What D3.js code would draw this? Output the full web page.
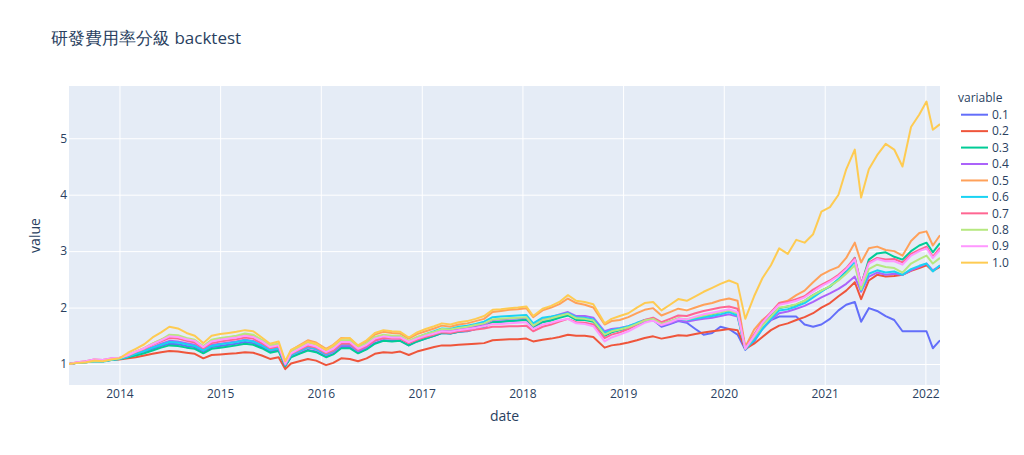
<!DOCTYPE html>
<html><head><meta charset="utf-8">
<script src="https://cdn.jsdelivr.net/npm/d3@7"></script>
<style>body{margin:0;background:#fff}svg{display:block}text{font-family:"Open Sans",verdana,arial,sans-serif}</style>
</head><body>
<svg id="c" width="1024" height="455"></svg>
<script>
const title = "研發費用率分級 backtest";
const dates = [
 "2013-07-02","2013-08-01","2013-09-01","2013-10-01","2013-11-01","2013-12-01",
 "2014-01-01","2014-02-01","2014-03-01","2014-04-01","2014-05-01","2014-06-01","2014-07-01","2014-08-01","2014-09-01","2014-10-01","2014-11-01","2014-12-01",
 "2015-01-01","2015-02-01","2015-03-01","2015-04-01","2015-05-01","2015-06-01","2015-07-01","2015-08-01","2015-08-25","2015-09-15","2015-10-15","2015-11-15","2015-12-15",
 "2016-01-20","2016-02-15","2016-03-15","2016-04-15","2016-05-15","2016-06-15","2016-07-15","2016-08-15","2016-09-15","2016-10-15","2016-11-15","2016-12-15",
 "2017-01-15","2017-02-15","2017-03-15","2017-04-15","2017-05-15","2017-06-15","2017-07-15","2017-08-15","2017-09-15","2017-10-15","2017-11-15","2017-12-15",
 "2018-01-15","2018-02-09","2018-03-15","2018-04-15","2018-05-15","2018-06-15","2018-07-15","2018-08-15","2018-09-15","2018-10-26","2018-11-20","2018-12-20",
 "2019-01-20","2019-02-20","2019-03-20","2019-04-20","2019-05-20","2019-06-20","2019-07-20","2019-08-20","2019-09-20","2019-10-20","2019-11-20","2019-12-20",
 "2020-01-20","2020-02-20","2020-03-19","2020-04-20","2020-05-20","2020-06-20","2020-07-20","2020-08-20","2020-09-20","2020-10-20","2020-11-20","2020-12-20",
 "2021-01-20","2021-02-20","2021-03-20","2021-04-20","2021-05-13","2021-06-10","2021-07-10","2021-08-10","2021-09-10","2021-10-10","2021-11-10","2021-12-10",
 "2022-01-05","2022-01-28","2022-02-23"];

const s01 = [1.00,1.02,1.03,1.05,1.05,1.08,
 1.10,1.13,1.17,1.22,1.27,1.32,1.36,1.35,1.32,1.30,1.22,1.30,
 1.32,1.34,1.36,1.39,1.37,1.30,1.22,1.25,0.97,1.13,1.19,1.25,1.22,
 1.13,1.18,1.30,1.30,1.20,1.27,1.37,1.42,1.41,1.41,1.33,1.40,
 1.45,1.50,1.55,1.54,1.57,1.58,1.62,1.65,1.74,1.75,1.76,1.77,
 1.79,1.66,1.75,1.78,1.83,1.88,1.80,1.80,1.76,1.52,1.57,1.60,
 1.63,1.70,1.75,1.78,1.66,1.71,1.76,1.73,1.62,1.52,1.55,1.66,
 1.62,1.52,1.25,1.40,1.62,1.78,1.84,1.84,1.84,1.70,1.66,1.70,
 1.80,1.95,2.05,2.10,1.75,1.99,1.94,1.85,1.78,1.58,1.58,1.58,
 1.58,1.28,1.42];
const s02 = [1.00,1.02,1.04,1.06,1.05,1.07,
 1.08,1.10,1.12,1.15,1.18,1.21,1.23,1.22,1.20,1.18,1.10,1.16,
 1.17,1.18,1.19,1.21,1.20,1.15,1.09,1.12,0.91,1.01,1.05,1.09,1.06,
 0.98,1.02,1.10,1.09,1.05,1.10,1.18,1.21,1.20,1.22,1.16,1.22,
 1.26,1.30,1.33,1.33,1.34,1.35,1.36,1.37,1.42,1.43,1.44,1.44,
 1.45,1.40,1.43,1.45,1.48,1.52,1.50,1.50,1.48,1.29,1.33,1.35,
 1.38,1.42,1.46,1.49,1.45,1.48,1.51,1.50,1.53,1.56,1.58,1.60,
 1.62,1.60,1.27,1.36,1.48,1.60,1.68,1.72,1.78,1.83,1.90,2.00,
 2.08,2.20,2.30,2.45,2.15,2.48,2.58,2.55,2.56,2.58,2.65,2.70,
 2.75,2.65,2.72];
const s03 = [1.00,1.02,1.03,1.05,1.05,1.07,
 1.09,1.12,1.15,1.19,1.24,1.29,1.33,1.32,1.29,1.27,1.19,1.27,
 1.29,1.31,1.33,1.36,1.34,1.28,1.20,1.23,0.96,1.12,1.18,1.24,1.21,
 1.12,1.17,1.28,1.28,1.19,1.26,1.36,1.41,1.40,1.41,1.33,1.40,
 1.45,1.50,1.55,1.54,1.57,1.59,1.62,1.66,1.74,1.75,1.76,1.77,
 1.78,1.64,1.74,1.77,1.82,1.86,1.78,1.78,1.75,1.50,1.56,1.60,
 1.64,1.70,1.76,1.79,1.70,1.75,1.80,1.78,1.82,1.85,1.88,1.92,
 1.95,1.90,1.28,1.50,1.70,1.85,1.99,2.02,2.05,2.12,2.22,2.30,
 2.37,2.50,2.65,2.88,2.40,2.85,2.96,2.98,2.90,2.85,3.00,3.10,
 3.15,2.98,3.14];
const s04 = [1.00,1.02,1.04,1.07,1.06,1.09,
 1.10,1.14,1.19,1.24,1.30,1.36,1.41,1.40,1.37,1.34,1.25,1.34,
 1.36,1.38,1.40,1.43,1.41,1.34,1.25,1.28,0.98,1.16,1.22,1.29,1.26,
 1.16,1.21,1.33,1.33,1.23,1.30,1.41,1.46,1.45,1.45,1.37,1.44,
 1.50,1.55,1.60,1.59,1.62,1.64,1.67,1.70,1.78,1.79,1.80,1.81,
 1.82,1.68,1.79,1.83,1.88,1.92,1.85,1.85,1.82,1.58,1.62,1.64,
 1.67,1.72,1.76,1.78,1.68,1.72,1.77,1.75,1.78,1.80,1.82,1.85,
 1.88,1.84,1.26,1.45,1.63,1.78,1.90,1.93,1.98,2.03,2.10,2.18,
 2.25,2.33,2.42,2.55,2.28,2.55,2.62,2.58,2.60,2.58,2.66,2.72,
 2.78,2.66,2.74];
const s05 = [1.00,1.02,1.03,1.05,1.05,1.08,
 1.10,1.16,1.22,1.28,1.36,1.43,1.50,1.49,1.44,1.41,1.30,1.42,
 1.45,1.47,1.49,1.52,1.50,1.42,1.32,1.36,1.02,1.24,1.33,1.42,1.38,
 1.27,1.34,1.46,1.45,1.32,1.40,1.52,1.57,1.55,1.54,1.45,1.53,
 1.58,1.63,1.68,1.66,1.70,1.72,1.76,1.80,1.92,1.94,1.96,1.97,
 1.99,1.83,1.95,2.00,2.06,2.16,2.08,2.05,2.00,1.70,1.76,1.78,
 1.83,1.90,1.96,1.99,1.86,1.92,1.98,1.95,2.00,2.05,2.08,2.13,
 2.16,2.12,1.30,1.61,1.78,1.90,2.08,2.12,2.22,2.30,2.45,2.58,
 2.66,2.72,2.88,3.15,2.80,3.05,3.08,3.02,3.00,2.92,3.18,3.32,
 3.35,3.10,3.28];
const s06 = [1.00,1.02,1.03,1.05,1.04,1.07,
 1.09,1.13,1.18,1.23,1.29,1.34,1.39,1.38,1.35,1.32,1.24,1.32,
 1.35,1.37,1.39,1.42,1.40,1.33,1.25,1.28,0.99,1.16,1.23,1.30,1.27,
 1.17,1.23,1.35,1.35,1.25,1.33,1.44,1.49,1.48,1.48,1.40,1.47,
 1.53,1.58,1.63,1.62,1.66,1.68,1.71,1.75,1.83,1.84,1.85,1.86,
 1.87,1.72,1.82,1.84,1.87,1.90,1.83,1.82,1.79,1.55,1.60,1.63,
 1.67,1.73,1.78,1.80,1.70,1.75,1.80,1.78,1.80,1.83,1.85,1.88,
 1.92,1.86,1.26,1.42,1.62,1.80,1.95,1.97,2.02,2.08,2.18,2.28,
 2.38,2.50,2.62,2.82,2.30,2.60,2.66,2.62,2.64,2.58,2.68,2.74,
 2.78,2.64,2.75];
const s07 = [1.00,1.03,1.05,1.08,1.07,1.10,
 1.11,1.15,1.21,1.27,1.34,1.40,1.46,1.45,1.41,1.38,1.28,1.37,
 1.40,1.42,1.44,1.47,1.45,1.37,1.28,1.31,1.00,1.18,1.25,1.32,1.29,
 1.19,1.24,1.36,1.36,1.25,1.32,1.42,1.46,1.45,1.45,1.37,1.43,
 1.48,1.52,1.56,1.55,1.58,1.59,1.61,1.63,1.66,1.66,1.67,1.67,
 1.68,1.58,1.66,1.70,1.75,1.80,1.74,1.73,1.70,1.46,1.52,1.56,
 1.62,1.70,1.78,1.82,1.74,1.80,1.86,1.85,1.90,1.94,1.97,2.00,
 2.02,1.98,1.28,1.52,1.75,1.92,2.08,2.10,2.15,2.20,2.32,2.40,
 2.48,2.58,2.70,2.88,2.42,2.80,2.88,2.85,2.86,2.80,2.95,3.02,
 3.08,2.90,3.06];
const s08 = [1.00,1.02,1.03,1.05,1.05,1.08,
 1.10,1.16,1.22,1.28,1.36,1.43,1.52,1.51,1.46,1.43,1.32,1.43,
 1.46,1.48,1.50,1.54,1.52,1.43,1.33,1.36,1.02,1.22,1.30,1.38,1.34,
 1.24,1.30,1.42,1.42,1.30,1.37,1.48,1.52,1.50,1.50,1.41,1.48,
 1.53,1.57,1.62,1.61,1.64,1.66,1.69,1.72,1.79,1.80,1.81,1.82,
 1.83,1.68,1.78,1.81,1.85,1.89,1.81,1.80,1.77,1.52,1.58,1.61,
 1.65,1.71,1.77,1.80,1.71,1.76,1.81,1.79,1.83,1.86,1.89,1.92,
 1.95,1.90,1.27,1.48,1.68,1.84,2.00,2.02,2.06,2.12,2.22,2.30,
 2.38,2.48,2.60,2.75,2.32,2.68,2.76,2.72,2.70,2.62,2.78,2.86,
 2.92,2.78,2.88];
const s09 = [1.00,1.03,1.05,1.08,1.07,1.10,
 1.11,1.16,1.22,1.28,1.35,1.42,1.49,1.48,1.44,1.41,1.30,1.40,
 1.43,1.45,1.47,1.50,1.48,1.40,1.30,1.33,1.00,1.19,1.27,1.35,1.31,
 1.21,1.27,1.39,1.39,1.27,1.34,1.45,1.49,1.47,1.47,1.39,1.45,
 1.50,1.54,1.58,1.57,1.60,1.62,1.64,1.67,1.71,1.71,1.72,1.73,
 1.74,1.62,1.70,1.73,1.77,1.80,1.72,1.71,1.67,1.40,1.47,1.52,
 1.58,1.66,1.73,1.77,1.69,1.74,1.80,1.79,1.84,1.88,1.91,1.94,
 1.97,1.92,1.27,1.50,1.73,1.90,2.05,2.08,2.12,2.18,2.28,2.38,
 2.46,2.56,2.68,2.85,2.40,2.78,2.86,2.82,2.82,2.76,2.92,3.00,
 3.05,2.88,3.02];
const s10 = [1.00,1.02,1.03,1.06,1.05,1.08,
 1.10,1.20,1.27,1.35,1.47,1.56,1.66,1.63,1.55,1.50,1.37,1.50,
 1.53,1.55,1.57,1.60,1.58,1.47,1.36,1.40,1.05,1.25,1.32,1.40,1.36,
 1.25,1.33,1.45,1.46,1.33,1.42,1.55,1.60,1.58,1.57,1.47,1.56,
 1.62,1.67,1.72,1.70,1.74,1.76,1.80,1.85,1.96,1.97,1.99,2.00,
 2.02,1.85,1.98,2.03,2.10,2.22,2.12,2.10,2.06,1.72,1.80,1.85,
 1.90,2.00,2.08,2.10,1.95,2.05,2.15,2.12,2.20,2.28,2.35,2.42,
 2.48,2.42,1.80,2.20,2.52,2.75,3.05,2.95,3.20,3.15,3.30,3.70,
 3.78,4.00,4.45,4.80,3.95,4.45,4.70,4.90,4.80,4.50,5.20,5.42,
 5.65,5.15,5.25];

const seriesNames = ["0.1","0.2","0.3","0.4","0.5","0.6","0.7","0.8","0.9","1.0"];
const seriesValues = [s01,s02,s03,s04,s05,s06,s07,s08,s09,s10];
const colors = ["#636efa","#EF553B","#00cc96","#ab63fa","#FFA15A","#19d3f3","#FF6692","#B6E880","#FF97FF","#FECB52"];
const yTicks = [1,2,3,4,5];
const xTickYears = [2014,2015,2016,2017,2018,2019,2020,2021,2022];

const svg = d3.select("#c");
const L = 69, R = 940, T = 86, B = 385;
const parse = d3.timeParse("%Y-%m-%d");
const x = d3.scaleTime().domain([parse("2013-07-02"), parse("2022-02-23")]).range([L, R]);
const y = d3.scaleLinear().domain([0.628, 5.926]).range([B, T]);

svg.append("rect").attr("x",L).attr("y",T).attr("width",R-L).attr("height",B-T).attr("fill","#E5ECF6");

const xt = xTickYears.map(yr => new Date(yr,0,1));
svg.append("g").attr("transform",`translate(0,${B})`)
  .call(d3.axisBottom(x).tickValues(xt).tickFormat(d3.timeFormat("%Y")).tickSize(-(B-T)).tickPadding(4))
  .call(g => { g.select(".domain").remove();
    g.selectAll("line").attr("stroke","#fff").attr("stroke-width",1);
    g.selectAll("text").attr("fill","#2a3f5f").attr("font-size",12); });
svg.append("g").attr("transform",`translate(${L},0)`)
  .call(d3.axisLeft(y).tickValues(yTicks).tickFormat(d3.format("d")).tickSize(-(R-L)).tickPadding(2))
  .call(g => { g.select(".domain").remove();
    g.selectAll("line").attr("stroke","#fff").attr("stroke-width",1);
    g.selectAll("text").attr("fill","#2a3f5f").attr("font-size",12); });

svg.append("clipPath").attr("id","clip").append("rect").attr("x",L).attr("y",T).attr("width",R-L).attr("height",B-T);
const line = d3.line().x(d => x(d[0])).y(d => y(d[1]));
const pd = dates.map(parse);
const g = svg.append("g").attr("clip-path","url(#clip)");
seriesValues.forEach((vals,i) => {
  g.append("path").datum(vals.map((v,j)=>[pd[j],v]))
   .attr("d",line).attr("fill","none").attr("stroke",colors[i]).attr("stroke-width",2)
   .attr("stroke-linejoin","round");
});

svg.append("text").attr("x",51).attr("y",44).attr("font-size",17).attr("fill","#2a3f5f").text(title);
svg.append("text").attr("x",(L+R)/2).attr("y",421).attr("text-anchor","middle").attr("font-size",14).attr("fill","#2a3f5f").text("date");
svg.append("text").attr("transform",`translate(40,${(T+B)/2}) rotate(-90)`).attr("text-anchor","middle").attr("font-size",14).attr("fill","#2a3f5f").text("value");

const lg = svg.append("g");
lg.append("text").attr("x",958).attr("y",101.5).attr("font-size",12).attr("fill","#2a3f5f").text("variable");
seriesNames.forEach((n,i) => {
  const cy = 114.7 + i*16.44;
  lg.append("line").attr("x1",961).attr("x2",988).attr("y1",cy).attr("y2",cy).attr("stroke",colors[i]).attr("stroke-width",2);
  lg.append("text").attr("x",992).attr("y",cy+4.2).attr("font-size",12).attr("fill","#2a3f5f").text(n);
});
</script>
</body></html>
